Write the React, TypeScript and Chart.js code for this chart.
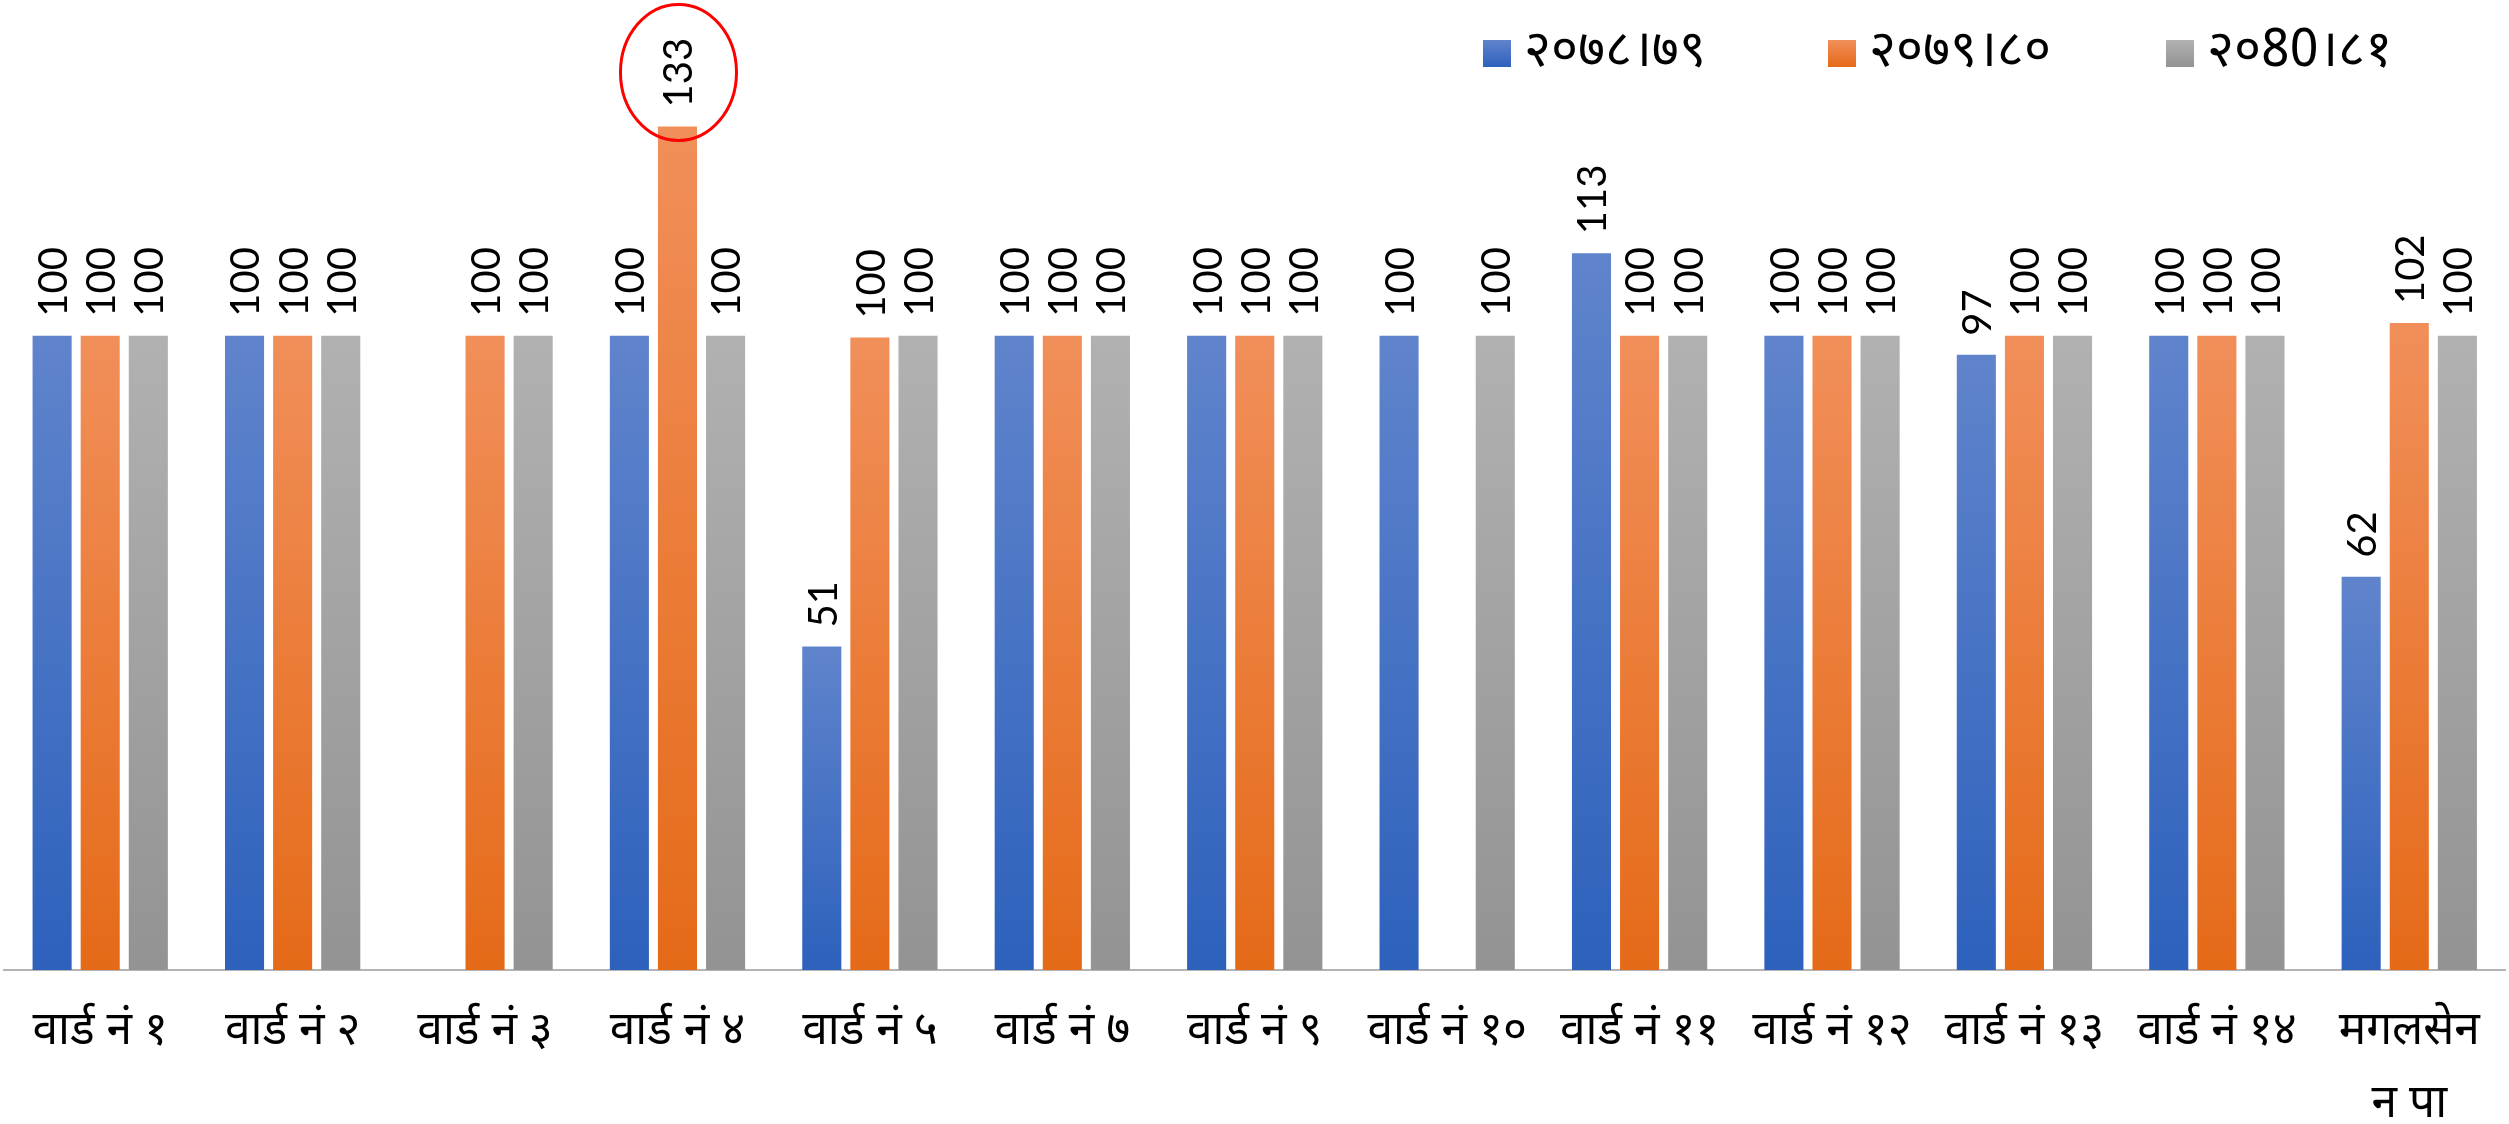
import React, { useEffect, useRef } from "react";
import { Chart, registerables } from "chart.js";

Chart.register(...registerables);

const categories: (string | string[])[] = [
  "वार्ड नं १",
  "वार्ड नं २",
  "वार्ड नं ३",
  "वार्ड नं ४",
  "वार्ड नं ५",
  "वार्ड नं ७",
  "वार्ड नं ९",
  "वार्ड नं १०",
  "वार्ड नं ११",
  "वार्ड नं १२",
  "वार्ड नं १३",
  "वार्ड नं १४",
  ["मगलसेन", "न पा"],
];

const seriesLabels = ["२०७८।७९", "२०७९।८०", "२०80।८१"];

const values7879: (number | null)[] = [100, 100, null, 100, 51, 100, 100, 100, 113, 100, 97, 100, 62];
const values7980: (number | null)[] = [100, 100, 100, 133, 99.7, 100, 100, null, 100, 100, 100, 100, 102];
const values8081: (number | null)[] = [100, 100, 100, 100, 100, 100, 100, 100, 100, 100, 100, 100, 100];

const gradients: [string, string][] = [
  ["#6084cc", "#2d61bc"],
  ["#f18f5a", "#e56a18"],
  ["#b1b1b1", "#939393"],
];

const DEVA_FONT = "'Noto Sans Devanagari', 'Lohit Devanagari', 'Mangal', 'Noto Sans', sans-serif";
const NUM_FONT = "Lato, 'Open Sans', sans-serif";

function barGradient(idx: number) {
  return (ctx: any) => {
    const chart = ctx.chart;
    const yScale = chart.scales?.y;
    const [top, bottom] = gradients[idx];
    if (!yScale || ctx.type !== "data" || ctx.raw == null) return top;
    const yTop = yScale.getPixelForValue(ctx.raw);
    const yBot = yScale.getPixelForValue(0);
    if (!isFinite(yTop) || !isFinite(yBot) || yTop === yBot) return top;
    const g = chart.ctx.createLinearGradient(0, yTop, 0, yBot);
    g.addColorStop(0, top);
    g.addColorStop(1, bottom);
    return g;
  };
}

const labelsPlugin = {
  id: "barValueLabels",
  afterDatasetsDraw(chart: any) {
    const ctx = chart.ctx;
    ctx.save();
    ctx.fillStyle = "#000";
    ctx.font = `40px ${NUM_FONT}`;
    ctx.textAlign = "left";
    ctx.textBaseline = "middle";
    chart.data.datasets.forEach((ds: any, di: number) => {
      const meta = chart.getDatasetMeta(di);
      meta.data.forEach((bar: any, i: number) => {
        const v = ds.data[i];
        if (v == null) return;
        ctx.save();
        ctx.translate(bar.x + 2, bar.y - 19);
        ctx.rotate(-Math.PI / 2);
        ctx.fillText(String(Math.round(v)), 0, 0);
        ctx.restore();
      });
    });
    // red ellipse highlighting the 133 value
    const meta1 = chart.getDatasetMeta(1);
    const hl = meta1.data[3];
    if (hl) {
      ctx.beginPath();
      ctx.strokeStyle = "#ff0000";
      ctx.lineWidth = 3;
      ctx.ellipse(hl.x + 1, hl.y - 54, 58, 68, 0, 0, Math.PI * 2);
      ctx.stroke();
    }
    ctx.restore();
  },
};

const legendPlugin = {
  id: "customLegend",
  afterDraw(chart: any) {
    const ctx = chart.ctx;
    const xs = [1483, 1828, 2166];
    ctx.save();
    ctx.font = `52px ${DEVA_FONT}`;
    ctx.textAlign = "left";
    ctx.textBaseline = "middle";
    seriesLabels.forEach((lab, i) => {
      const x = xs[i];
      const y = 40;
      const g = ctx.createLinearGradient(0, y, 0, y + 27);
      g.addColorStop(0, gradients[i][0]);
      g.addColorStop(1, gradients[i][1]);
      ctx.fillStyle = g;
      ctx.fillRect(x, y, 28, 27);
      ctx.fillStyle = "#000";
      ctx.fillText(lab, x + 41, 56);
    });
    ctx.restore();
  },
};

export default function App() {
  const ref = useRef<HTMLCanvasElement | null>(null);
  useEffect(() => {
    if (!ref.current) return;
    const chart = new Chart(ref.current, {
      type: "bar",
      data: {
        labels: categories,
        datasets: [
          { label: seriesLabels[0], data: values7879, backgroundColor: barGradient(0) },
          { label: seriesLabels[1], data: values7980, backgroundColor: barGradient(1) },
          { label: seriesLabels[2], data: values8081, backgroundColor: barGradient(2) },
        ],
      },
      options: {
        responsive: false,
        animation: false,
        maintainAspectRatio: false,
        layout: { padding: { left: 4, right: 3, top: 82, bottom: 0 } },
        datasets: {
          bar: { barPercentage: 0.8125, categoryPercentage: 0.75 },
        },
        plugins: {
          legend: { display: false },
          tooltip: { enabled: false },
        },
        scales: {
          y: {
            display: false,
            min: 0,
            max: 140,
          },
          x: {
            grid: { display: false, drawTicks: false },
            border: { display: true, color: "#b4b4b4", width: 2 },
            ticks: {
              color: "#000",
              font: { family: DEVA_FONT, size: 46, lineHeight: 1.58 },
              padding: 29,
              maxRotation: 0,
              minRotation: 0,
              autoSkip: false,
            },
            afterFit: (scale: any) => {
              scale.height = 154;
            },
          },
        },
      },
      plugins: [labelsPlugin, legendPlugin],
    });
    return () => chart.destroy();
  }, []);
  return (
    <div style={{ position: "fixed", left: 0, top: 0, width: 2509, height: 1124, background: "#fff" }}>
      <canvas ref={ref} width={2509} height={1124} style={{ width: 2509, height: 1124, display: "block" }} />
    </div>
  );
}
